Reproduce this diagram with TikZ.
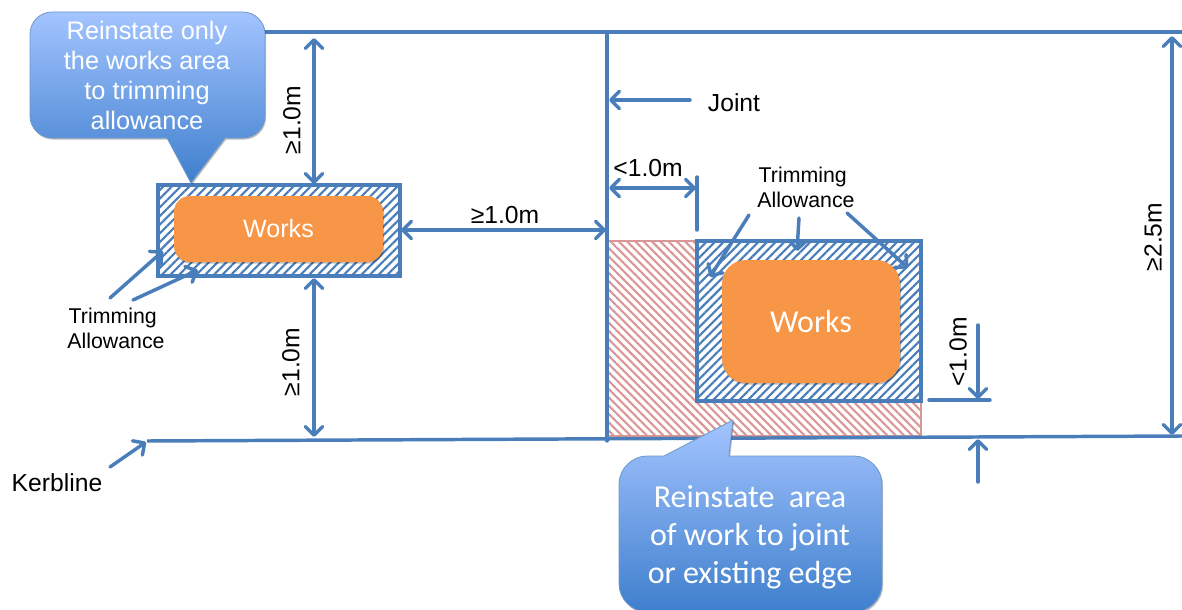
\documentclass[tikz,border=0pt]{standalone}
\usepackage{fontspec}
\setmainfont{Liberation Sans}
\newfontfamily\calloutfont{Carlito}
\usetikzlibrary{arrows.meta,patterns.meta,shadows}
\definecolor{linkblue}{HTML}{4A7EBB}
\definecolor{hatchred}{HTML}{D99694}
\definecolor{worksorange}{HTML}{F79646}
\definecolor{calltop}{HTML}{A3C4FF}
\definecolor{callbot}{HTML}{3F7FCD}
\tikzset{
  soft/.style={drop shadow={shadow xshift=0.8pt,shadow yshift=-1.2pt,opacity=0.25,fill=black}},
  rule/.style={draw=linkblue,line width=2.6pt,line cap=round},
  dim/.style={rule,{Straight Barb[length=6.5pt,width=13pt,round]}-{Straight Barb[length=6.5pt,width=13pt,round]}},
  pointer/.style={rule,-{Straight Barb[length=6.5pt,width=13pt,round]}},
  blueboxstyle/.style={draw=linkblue,line width=3pt,inner sep=0pt,outer sep=0pt,preaction={fill=white},
    pattern={Lines[angle=45,distance=4.6pt,line width=1.6pt]},pattern color=linkblue},
  redboxstyle/.style={draw=hatchred,line width=1.6pt,inner sep=0pt,outer sep=0pt,
    pattern={Lines[angle=-45,distance=4.4pt,line width=1.6pt]},pattern color=hatchred},
  worksbox/.style={fill=worksorange,rounded corners=#1,inner sep=0pt,outer sep=0pt,text=white,soft},
  callout/.style={draw=linkblue!80,line width=0.6pt,top color=calltop,bottom color=callbot,soft},
  dimtext/.style={font=\fontsize{18.5}{22}\selectfont,inner sep=0pt},
  notetext/.style={font=\fontsize{16}{18.7}\selectfont,align=left,inner sep=0pt},
}
\begin{document}
\begin{tikzpicture}[x=0.75pt,y=-0.75pt]
\useasboundingbox (0,0) rectangle (1182,610);

% boxes
\node[redboxstyle,minimum width=234.75pt,minimum height=146.25pt] (redarea) at (764.5,338.5) {};
\node[blueboxstyle,minimum width=181.5pt,minimum height=68.25pt] (leftallow) at (279,230.5) {};
\node[blueboxstyle,minimum width=168pt,minimum height=120pt] (rightallow) at (809,321) {};
\node[worksbox=12pt,minimum width=156.75pt,minimum height=49.5pt,font=\fontsize{18.8}{22}\selectfont] (leftworks) at (278.5,229) {Works};
\node[worksbox=18pt,minimum width=133.5pt,minimum height=92.25pt,font=\calloutfont\fontsize{24}{28}\selectfont] (rightworks) at (811,321.5) {Works};

% base lines
\coordinate (topL) at (265,32);
\coordinate (topR) at (1182,32);
\coordinate (jointTop) at (607,32);
\coordinate (jointBot) at (607,441);
\coordinate (kerbL) at (147,441);
\coordinate (kerbR) at (1182,436);
\draw[rule,line cap=butt] (topL) -- (topR);
\draw[rule] (jointTop) -- (jointBot);
\draw[rule,line cap=butt] (kerbL) -- (kerbR);

% left dimensions
\coordinate (dA1) at (314,38);
\coordinate (dA2) at (314,184);
\draw[dim] (dA1) -- (dA2);
\coordinate (dB1) at (314,278);
\coordinate (dB2) at (314,437);
\draw[dim] (dB1) -- (dB2);
\coordinate (dC1) at (401,230);
\coordinate (dC2) at (606,230);
\draw[dim] (dC1) -- (dC2);
\coordinate (dD1) at (1172,36);
\coordinate (dD2) at (1172,435);
\draw[dim] (dD1) -- (dD2);
\coordinate (dE1) at (609,188);
\coordinate (dE2) at (696,188);
\draw[dim] (dE1) -- (dE2);
\coordinate (tickT) at (697,177);
\coordinate (tickB) at (697,230);
\draw[rule] (tickT) -- (tickB);

% joint pointer
\coordinate (jointFrom) at (690,100);
\coordinate (jointTo) at (609,100);
\draw[pointer] (jointFrom) -- (jointTo);

% small <1.0m
\coordinate (ltFrom) at (978,325);
\coordinate (ltTo) at (978,399);
\draw[pointer] (ltFrom) -- (ltTo);
\coordinate (ltL) at (929,400);
\coordinate (ltR) at (990,400);
\draw[rule] (ltL) -- (ltR);
\coordinate (upFrom) at (978,482);
\coordinate (upTo) at (978,439);
\draw[pointer] (upFrom) -- (upTo);

% trimming pointers right
\coordinate (trA) at (749,215);
\coordinate (trAe) at (710,277);
\draw[pointer] (trA) -- (trAe);
\coordinate (trB) at (799,218);
\coordinate (trBe) at (797,251);
\draw[pointer] (trB) -- (trBe);
\coordinate (trC) at (847,213);
\coordinate (trCe) at (908,268);
\draw[pointer] (trC) -- (trCe);

% trimming pointers left
\coordinate (tlA) at (110,298);
\coordinate (tlAe) at (163,251);
\draw[pointer] (tlA) -- (tlAe);
\coordinate (tlB) at (133,300);
\coordinate (tlBe) at (198,270);
\draw[pointer] (tlB) -- (tlBe);

% kerb pointer
\coordinate (kerbFrom) at (110,467);
\coordinate (kerbTo) at (146,442);
\draw[pointer] (kerbFrom) -- (kerbTo);

% callouts
\path[callout] (52,12) -- (243,12) .. controls (255,12) and (265,22) .. (265,34)
  -- (265,116) .. controls (265,128) and (255,138) .. (243,138)
  -- (225,138) -- (191,183) -- (167,138) -- (52,138)
  .. controls (40,138) and (30,128) .. (30,116) -- (30,34)
  .. controls (30,22) and (40,12) .. (52,12) -- cycle;
\node[font=\fontsize{19}{22.4}\selectfont,text=white,align=center,inner sep=0pt] (noteA) at (147,75.5)
  {Reinstate only\\the works area\\to trimming\\allowance};
\path[callout] (647,456) -- (664,456) -- (733,420) -- (729,456) -- (854,456)
  .. controls (869,456) and (882,469) .. (882,484) -- (882,584)
  .. controls (882,599) and (869,612) .. (854,612) -- (647,612)
  .. controls (632,612) and (619,599) .. (619,584) -- (619,484)
  .. controls (619,469) and (632,456) .. (647,456) -- cycle;
\node[font=\calloutfont\fontsize{24}{28.5}\selectfont,text=white,align=center,inner sep=0pt] (noteB) at (750,537)
  {Reinstate\ \ area\\of work to joint\\or existing edge};

% labels
\node[dimtext,rotate=90] (lA) at (292,120) {≥1.0m};
\node[dimtext,rotate=90] (lB) at (291,362) {≥1.0m};
\node[dimtext] (lC) at (505,215) {≥1.0m};
\node[dimtext,rotate=90] (lD) at (1153,237) {≥2.5m};
\node[dimtext] (lE) at (648,168) {<1.0m};
\node[dimtext,rotate=90] (lF) at (958,352) {<1.0m};
\node[dimtext] (lJoint) at (734,103) {Joint};
\node[dimtext] (lKerb) at (57,483) {Kerbline};
\node[notetext] (lTrimR) at (806,187) {\hspace*{1pt}Trimming\\Allowance};
\node[notetext] (lTrimL) at (116,328) {\hspace*{1pt}Trimming\\Allowance};
\end{tikzpicture}
\end{document}
